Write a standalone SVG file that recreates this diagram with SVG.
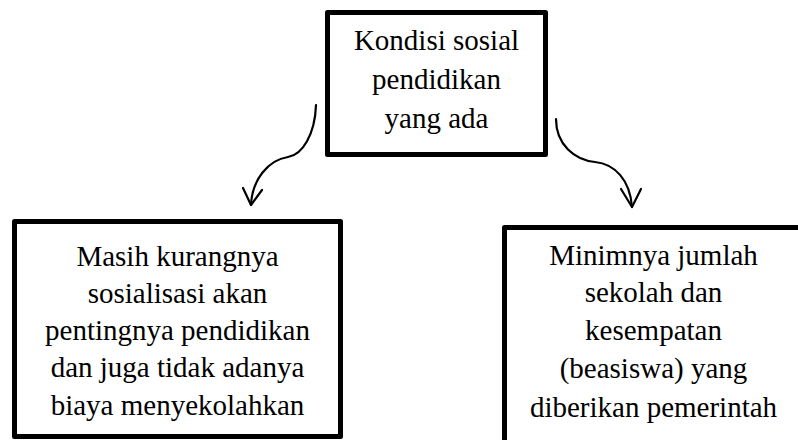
<svg xmlns="http://www.w3.org/2000/svg" width="798" height="440" viewBox="0 0 798 440">
<defs>
<rect id="unused-none" width="0" height="0"/>
</defs>
<rect width="798" height="440" fill="#fff"/>
<g id="node-top" font-family="'Liberation Serif'" font-size="29" text-anchor="middle" fill="#000">
<rect x="327.5" y="12.5" width="218" height="142" fill="#fff" stroke="#000" stroke-width="5" stroke-linejoin="round"/>
<text x="436.5" y="50">Kondisi sosial</text>
<text x="436.5" y="89">pendidikan</text>
<text x="436.5" y="128">yang ada</text>
</g>
<g id="node-left" font-family="'Liberation Serif'" font-size="29" text-anchor="middle" fill="#000">
<rect x="14.5" y="221.5" width="326" height="215" fill="#fff" stroke="#000" stroke-width="5" stroke-linejoin="round"/>
<text x="177.5" y="266">Masih kurangnya</text>
<text x="177.5" y="303">sosialisasi akan</text>
<text x="177.5" y="340">pentingnya pendidikan</text>
<text x="177.5" y="377">dan juga tidak adanya</text>
<text x="177.5" y="415">biaya menyekolahkan</text>
</g>
<g id="node-right" font-family="'Liberation Serif'" font-size="29" text-anchor="middle" fill="#000">
<rect x="504.5" y="227.5" width="300" height="230" fill="#fff" stroke="#000" stroke-width="5" stroke-linejoin="round"/>
<text x="653.5" y="265">Minimnya jumlah</text>
<text x="653.5" y="302">sekolah dan</text>
<text x="653.5" y="340">kesempatan</text>
<text x="653.5" y="378">(beasiswa) yang</text>
<text x="653.5" y="417">diberikan pemerintah</text>
</g>
<g id="connectors" fill="none" stroke="#000" stroke-width="2.2" stroke-linecap="round" stroke-linejoin="round">
<path d="M316,105 C315,135 302,155 288,157 C268,160 252,180 251,205"/>
<path d="M243,188 L251,205 L262,190"/>
<path d="M556,119 C556,145 575,160 595,162 C615,164 630,180 632,207"/>
<path d="M621,189 L632,207 L641,189"/>
</g>
</svg>
